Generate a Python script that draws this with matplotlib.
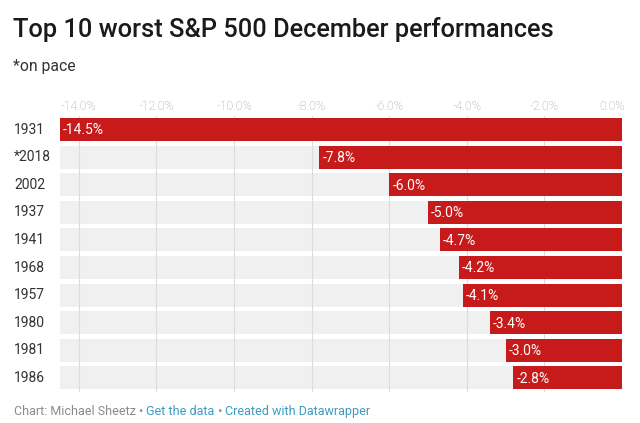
import matplotlib
matplotlib.use("Agg")
import matplotlib.pyplot as plt

years = ["1931", "*2018", "2002", "1937", "1941", "1968", "1957", "1980", "1981", "1986"]
values = [-14.5, -7.8, -6.0, -5.0, -4.7, -4.2, -4.1, -3.4, -3.0, -2.8]
ticks = [-14, -12, -10, -8, -6, -4, -2, 0]
tick_labels = ["-14.0%", "-12.0%", "-10.0%", "-8.0%", "-6.0%", "-4.0%", "-2.0%", "0.0%"]

W, H = 640, 423
fig = plt.figure(figsize=(W / 100, H / 100), dpi=100)
plt.rcParams['font.family'] = ['Roboto', 'DejaVu Sans']

x0, x1 = 59.5, 622
yt, yb = 115.7, 391.7
ax = fig.add_axes([x0 / W, 1 - yb / H, (x1 - x0) / W, (yb - yt) / H])
ax.set_xlim(-14.5, 0)
ax.set_ylim(9.5, -0.5)
for s in ax.spines.values():
    s.set_visible(False)
ax.set_xticks([])
ax.set_yticks([])

red = "#c71b1b"
grey = "#f0f0f0"
bh = 0.83
ypos = list(range(len(years)))
ax.barh(ypos, [-14.5] * len(years), height=bh, color=grey, left=0, zorder=1)
for t in ticks[:-1]:
    ax.axvline(t, color="#dcdcdc", lw=0.8, zorder=2)
ax.barh(ypos, values, height=bh, color=red, zorder=3)
for y, v in zip(ypos, values):
    ax.text(v + 0.08, y + 0.03, f"{v:.1f}%", color="white", fontsize=10,
            va="center", ha="left", zorder=4)

# tick labels on top
for t, lab in zip(ticks, tick_labels):
    ha = "right" if t == 0 else "center"
    xx = 0.07 if t == 0 else t
    ax.text(xx, -0.5 - 0.22, lab, color="#a0a0a0", fontsize=8.9, ha=ha,
            va="baseline", fontweight="light", transform=ax.transData, clip_on=False)

# year labels
for y, lab in zip(ypos, years):
    fig.text(14 / W, 1 - (129.5 + y * 27.6) / H, lab, color="#333333", fontsize=10,
             ha="left", va="center")

fig.text(13 / W, 1 - 37 / H, "Top 10 worst S&P 500 December performances", fontsize=18.3,
         fontweight="medium", color="#1a1a1a", ha="left", va="baseline")
fig.text(13 / W, 1 - 71 / H, "*on pace", fontsize=11.3, color="#333333", ha="left", va="baseline")

# footer
fx = 14 / W
fy = 1 - 415 / H
fs = 9.0
t1 = fig.text(fx, fy, "Chart: Michael Sheetz • ", fontsize=fs, color="#8a8a8a", ha="left", va="baseline")
fig.canvas.draw()
r = fig.canvas.get_renderer()
bb = t1.get_window_extent(r)
t2 = fig.text(bb.x1 / W, fy, "Get the data", fontsize=fs, color="#3b9bc2", ha="left", va="baseline")
bb = t2.get_window_extent(r)
t3 = fig.text(bb.x1 / W, fy, " • ", fontsize=fs, color="#8a8a8a", ha="left", va="baseline")
bb = t3.get_window_extent(r)
fig.text(bb.x1 / W, fy, "Created with Datawrapper", fontsize=fs, color="#3b9bc2", ha="left", va="baseline")

fig.savefig("out.png", dpi=100)
